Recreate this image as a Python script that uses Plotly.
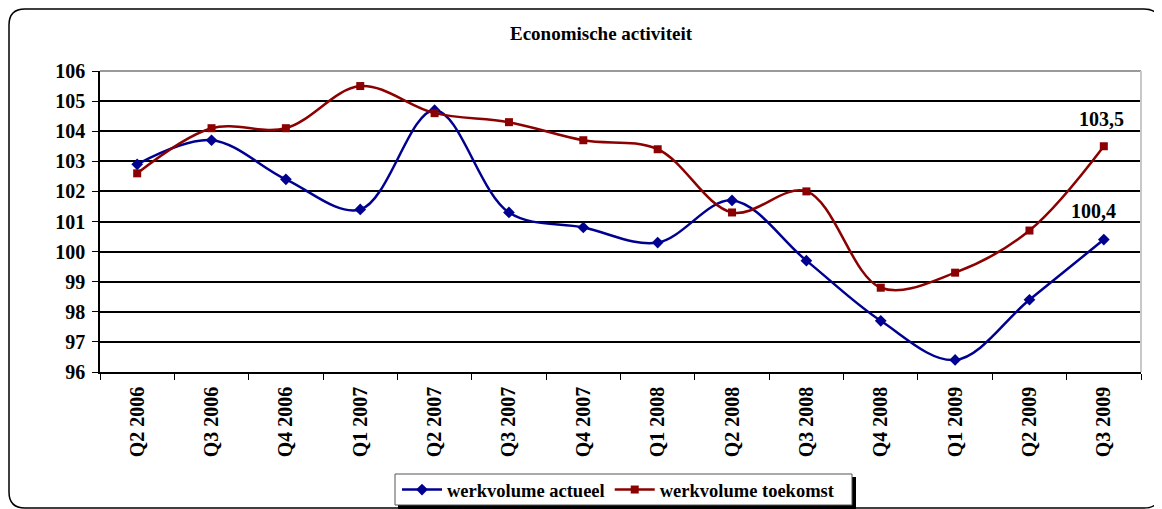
import plotly.graph_objects as go

quarters = ["Q2 2006", "Q3 2006", "Q4 2006", "Q1 2007", "Q2 2007", "Q3 2007", "Q4 2007",
            "Q1 2008", "Q2 2008", "Q3 2008", "Q4 2008", "Q1 2009", "Q2 2009", "Q3 2009"]
actueel = [102.9, 103.7, 102.4, 101.4, 104.7, 101.3, 100.8, 100.3, 101.7, 99.7, 97.7, 96.4, 98.4, 100.4]
toekomst = [102.6, 104.1, 104.1, 105.5, 104.6, 104.3, 103.7, 103.4, 101.3, 102.0, 98.8, 99.3, 100.7, 103.5]

BLUE = "#000090"
RED = "#8B0000"
FONT = "Liberation Serif"

# the page body has an 8px margin, so the figure starts at (8, 8) on the page
OFF = 8
W, H = 1162 - OFF, 509 - OFF
# plot area on the page: x 100..1141, y 71..372
L, T = 100 - OFF, 71 - OFF
R, B = W - (1141 - OFF), H - (372 - OFF)
pw, ph = W - L - R, H - T - B


def px(x):
    # page pixel x -> paper coordinate
    return (x - OFF - L) / pw


def py(y):
    # page pixel y -> paper coordinate
    return (T + ph - (y - OFF)) / ph


fig = go.Figure()
fig.add_trace(go.Scatter(
    x=quarters, y=actueel, name="werkvolume actueel", mode="lines+markers",
    line=dict(color=BLUE, width=2.5, shape="spline", smoothing=1),
    marker=dict(symbol="diamond", size=9, color=BLUE),
))
fig.add_trace(go.Scatter(
    x=quarters, y=toekomst, name="werkvolume toekomst", mode="lines+markers",
    line=dict(color=RED, width=2.5, shape="spline", smoothing=1),
    marker=dict(symbol="square", size=8, color=RED),
))

fig.add_annotation(x=quarters[-1], y=toekomst[-1], text=f"{toekomst[-1]:.1f}".replace(".", ","),
                   showarrow=False, yshift=27, xshift=-2,
                   font=dict(family=FONT, size=20, color="black", weight="bold"))
fig.add_annotation(x=quarters[-1], y=actueel[-1], text=f"{actueel[-1]:.1f}".replace(".", ","),
                   showarrow=False, yshift=29, xshift=-10,
                   font=dict(family=FONT, size=20, color="black", weight="bold"))

# outer rounded frame (all four corners rounded)
x0, x1, y0, y1 = px(9), px(1160), py(9), py(508)
rx, ry = 16 / pw, 16 / ph
frame = (f"M {x0 + rx},{y0} L {x1 - rx},{y0} Q {x1},{y0} {x1},{y0 - ry} "
         f"L {x1},{y1 + ry} Q {x1},{y1} {x1 - rx},{y1} "
         f"L {x0 + rx},{y1} Q {x0},{y1} {x0},{y1 + ry} "
         f"L {x0},{y0 - ry} Q {x0},{y0} {x0 + rx},{y0} Z")
fig.add_shape(type="path", path=frame, xref="paper", yref="paper",
              line=dict(color="black", width=1.5), layer="below")
# grey top/right border of the plot area
fig.add_shape(type="line", xref="paper", yref="paper", x0=0, x1=1, y0=1, y1=1,
              line=dict(color="#9a9a9a", width=2))
fig.add_shape(type="line", xref="paper", yref="paper", x0=1, x1=1, y0=0, y1=1,
              line=dict(color="#c8c8c8", width=2))
# legend box with its shadow
fig.add_shape(type="rect", xref="paper", yref="paper",
              x0=px(398), x1=px(856), y0=py(509), y1=py(477),
              fillcolor="black", line=dict(width=0))
fig.add_shape(type="rect", xref="paper", yref="paper",
              x0=px(395), x1=px(852), y0=py(505), y1=py(474),
              fillcolor="white", line=dict(color="#555555", width=1))

fig.update_layout(
    width=W, height=H,
    margin=dict(l=L, r=R, t=T, b=B, autoexpand=False),
    paper_bgcolor="white", plot_bgcolor="white",
    title=dict(text="Economische activiteit", xref="container", x=(601 - OFF) / W, xanchor="center",
               y=1 - (33 - OFF) / H, yanchor="middle",
               font=dict(family=FONT, size=19, color="black", weight="bold")),
    font=dict(family=FONT, color="black"),
    showlegend=True,
    legend=dict(orientation="h", x=px(397), xanchor="left", y=py(490), yanchor="middle",
                bgcolor="rgba(0,0,0,0)", borderwidth=0,
                font=dict(family=FONT, size=18.5, color="black", weight="bold"),
                itemwidth=40, tracegroupgap=0),
)
fig.update_xaxes(
    range=[-0.5, 13.5], type="category", tickangle=-90, automargin=False,
    showline=True, linecolor="black", linewidth=1.5,
    ticks="outside", ticklen=6, tickcolor="black", tickson="boundaries",
    ticklabelstandoff=5, showgrid=False,
    tickfont=dict(family=FONT, size=20, color="black", weight="bold"),
)
fig.update_yaxes(
    range=[96, 106], dtick=1, tickformat="d", automargin=False,
    showline=True, linecolor="black", linewidth=1.5,
    ticks="outside", ticklen=6, tickcolor="black", ticklabelstandoff=3,
    showgrid=True, gridcolor="black", gridwidth=2, zeroline=False,
    tickfont=dict(family=FONT, size=20, color="black", weight="bold"),
)

fig.write_html("out.html")
